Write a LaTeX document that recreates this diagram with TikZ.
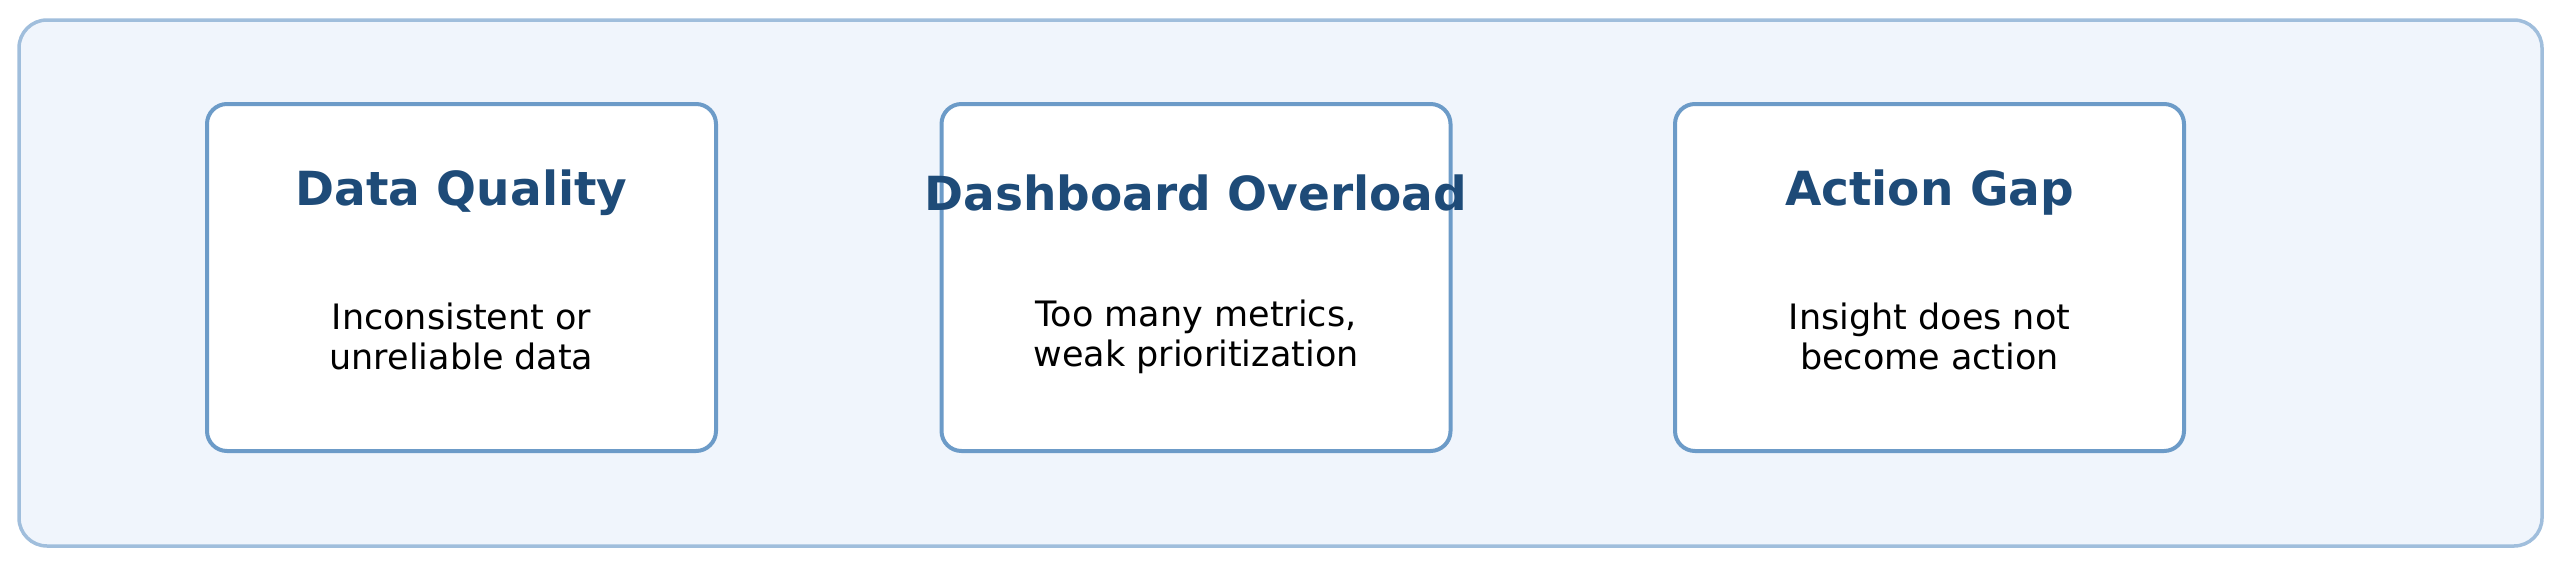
\documentclass[tikz,border=0pt]{standalone}
\usepackage{fontspec}
\setmainfont{DejaVu Sans}
\definecolor{outerfill}{RGB}{240,245,252}
\definecolor{outerdraw}{RGB}{160,190,220}
\definecolor{carddraw}{RGB}{108,155,200}
\definecolor{titlecol}{RGB}{30,75,120}
\tikzset{
  outerbox/.style={draw=outerdraw, fill=outerfill, line width=3.5pt, rounded corners=28pt},
  card/.style={draw=carddraw, fill=white, line width=4pt, rounded corners=20pt, minimum width=509pt, minimum height=347pt, inner sep=0pt},
  cardtitle/.style={anchor=base, text=titlecol, font=\fontsize{47}{56}\selectfont\bfseries, inner sep=0pt},
  cardbody/.style={anchor=base, align=center, text=black, font=\fontsize{35}{40}\selectfont, inner sep=0pt}
}
\begin{document}
\begin{tikzpicture}[x=1pt,y=-1pt]
\useasboundingbox (0,0) rectangle (2560,563);
\fill[white] (0,0) rectangle (2560,563);
\draw[outerbox] (19,20) rectangle (2542,546);
\node[card] (c1) at (461.5,277.5) {};
\node[card] (c2) at (1196,277.5) {};
\node[card] (c3) at (1929.5,277.5) {};
\node[cardtitle] (t1) at (461.5,205) {Data Quality};
\node[cardtitle] (t2) at (1196,210) {Dashboard Overload};
\node[cardtitle] (t3) at (1929.5,205) {Action Gap};
\node[cardbody] (b1) at (461.5,369) {Inconsistent or\\unreliable data};
\node[cardbody] (b2) at (1196,366) {Too many metrics,\\weak prioritization};
\node[cardbody] (b3) at (1929.5,369) {Insight does not\\become action};
\end{tikzpicture}
\end{document}
